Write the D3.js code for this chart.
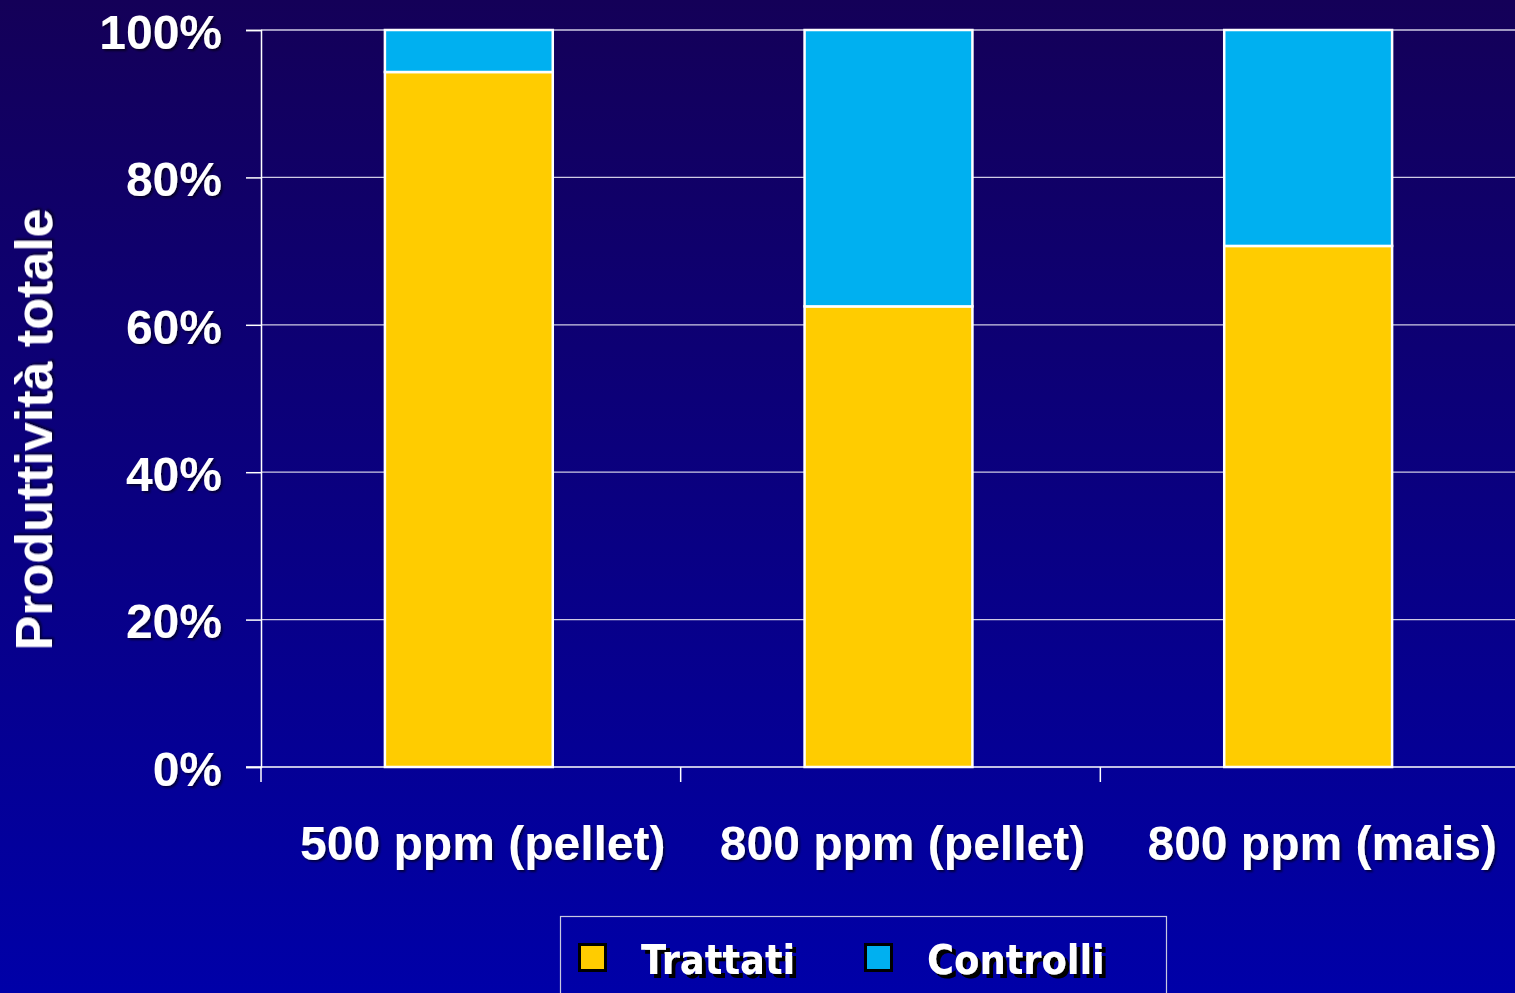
<!DOCTYPE html>
<html>
<head>
<meta charset="utf-8">
<script src="https://cdn.jsdelivr.net/npm/d3@7"></script>
<style>
  html, body { margin: 0; padding: 0; background: #0a0080; }
  svg { display: block; }
</style>
</head>
<body>
<svg id="chart" width="1515" height="993"></svg>
<script>
// Productivity share per treatment group, as percentages of the total
const categories = ["500 ppm (pellet)", "800 ppm (pellet)", "800 ppm (mais)"];
const seriesNames = ["Trattati", "Controlli"];
const trattati = [94.3, 62.5, 70.7];
const controlli = [5.7, 37.5, 29.3];
const yTicks = [0, 20, 40, 60, 80, 100];
const seriesColors = ["#ffcc00", "#00b0f0"];

const W = 1515, H = 993;
const plot = { left: 261, top: 30, right: 1520, bottom: 767 };

const svg = d3.select("#chart");
const defs = svg.append("defs");

const grad = defs.append("linearGradient")
  .attr("id", "bg").attr("x1", 0).attr("y1", 0).attr("x2", 0).attr("y2", 1);
grad.append("stop").attr("offset", "0%").attr("stop-color", "#140058");
grad.append("stop").attr("offset", "100%").attr("stop-color", "#0000a8");

const soft = defs.append("filter").attr("id", "softShadow")
  .attr("x", "-10%").attr("y", "-20%").attr("width", "130%").attr("height", "150%");
soft.append("feDropShadow").attr("dx", 2).attr("dy", 2).attr("stdDeviation", 1.2)
  .attr("flood-color", "#000").attr("flood-opacity", 0.6);

const hard = defs.append("filter").attr("id", "hardShadow")
  .attr("x", "-10%").attr("y", "-20%").attr("width", "130%").attr("height", "150%");
hard.append("feDropShadow").attr("dx", 4).attr("dy", 4).attr("stdDeviation", 0)
  .attr("flood-color", "#000").attr("flood-opacity", 1);

svg.append("rect").attr("width", W).attr("height", H).attr("fill", "url(#bg)");

// Scales
const x = d3.scaleBand().domain(categories).range([plot.left, plot.right]).padding(0);
const y = d3.scaleLinear().domain([0, 100]).range([plot.bottom, plot.top]);
const barW = x.bandwidth() * 0.4;

// Gridlines
svg.append("g").selectAll("line").data(yTicks.filter(d => d > 0)).join("line")
  .attr("x1", plot.left).attr("x2", W)
  .attr("y1", d => y(d)).attr("y2", d => y(d))
  .attr("stroke", "#cfcbe4").attr("stroke-width", 1.3);

// Stacked bars
const rows = categories.map((c, i) => ({ cat: c, Trattati: trattati[i], Controlli: controlli[i] }));
const stacked = d3.stack().keys(seriesNames)(rows);

svg.append("g").selectAll("g").data(stacked).join("g")
  .attr("fill", (d, i) => seriesColors[i])
  .selectAll("rect").data(d => d).join("rect")
  .attr("x", d => x(d.data.cat) + (x.bandwidth() - barW) / 2 - 2)
  .attr("width", barW)
  .attr("y", d => y(d[1]))
  .attr("height", d => y(d[0]) - y(d[1]))
  .attr("stroke", "#ffffff").attr("stroke-width", 2.5);

// Y axis
const yAxis = svg.append("g").attr("transform", `translate(${plot.left},0)`)
  .call(d3.axisLeft(y).tickValues(yTicks).tickFormat(d => d + "%").tickSize(15).tickPadding(24));
yAxis.select(".domain").attr("stroke", "#ffffff").attr("stroke-width", 1.5);
yAxis.selectAll(".tick line").attr("stroke", "#ffffff").attr("stroke-width", 1.5);
yAxis.selectAll(".tick text")
  .attr("fill", "#ffffff").attr("font-family", "'Liberation Sans', Arial, sans-serif")
  .attr("font-weight", "bold").attr("font-size", 48).attr("dy", "0.38em")
  .attr("filter", "url(#softShadow)");

// X axis line and category separators
svg.append("line").attr("x1", plot.left - 15).attr("x2", W)
  .attr("y1", plot.bottom).attr("y2", plot.bottom)
  .attr("stroke", "#ffffff").attr("stroke-width", 1.5);
svg.append("g").selectAll("line").data(categories).join("line")
  .attr("x1", d => x(d)).attr("x2", d => x(d))
  .attr("y1", plot.bottom).attr("y2", plot.bottom + 15)
  .attr("stroke", "#ffffff").attr("stroke-width", 1.5);

// Category labels
svg.append("g").selectAll("text").data(categories).join("text")
  .attr("x", d => x(d) + x.bandwidth() / 2 + 12)
  .attr("y", 860)
  .attr("text-anchor", "middle")
  .attr("fill", "#ffffff").attr("font-family", "'Liberation Sans', Arial, sans-serif")
  .attr("font-weight", "bold").attr("font-size", 48)
  .attr("filter", "url(#softShadow)")
  .text(d => d);

// Y axis title
svg.append("text")
  .attr("transform", `translate(52,${(plot.top + plot.bottom) / 2 + 31}) rotate(-90)`)
  .attr("text-anchor", "middle")
  .attr("fill", "#ffffff").attr("font-family", "'Liberation Sans', Arial, sans-serif")
  .attr("font-weight", "bold").attr("font-size", 52)
  .attr("filter", "url(#softShadow)")
  .text("Produttività totale");

// Legend
const legend = svg.append("g");
legend.append("rect").attr("x", 560.5).attr("y", 916.5).attr("width", 606).attr("height", 100)
  .attr("fill", "none").attr("stroke", "#c8c8e0").attr("stroke-width", 1.2);
const legendX = [578, 864];
const items = legend.selectAll("g.item").data(seriesNames).join("g").attr("class", "item")
  .attr("transform", (d, i) => `translate(${legendX[i]},943)`);
items.append("rect").attr("x", 1.5).attr("y", 1.5).attr("width", 26).attr("height", 26)
  .attr("fill", (d, i) => seriesColors[i]).attr("stroke", "#000").attr("stroke-width", 3);
items.append("text").attr("x", 63).attr("y", 31)
  .attr("fill", "#ffffff").attr("font-family", "'DejaVu Sans Condensed', 'DejaVu Sans', sans-serif")
  .attr("font-weight", "bold").attr("font-size", 41)
  .attr("filter", "url(#hardShadow)")
  .text(d => d);
</script>
</body>
</html>
